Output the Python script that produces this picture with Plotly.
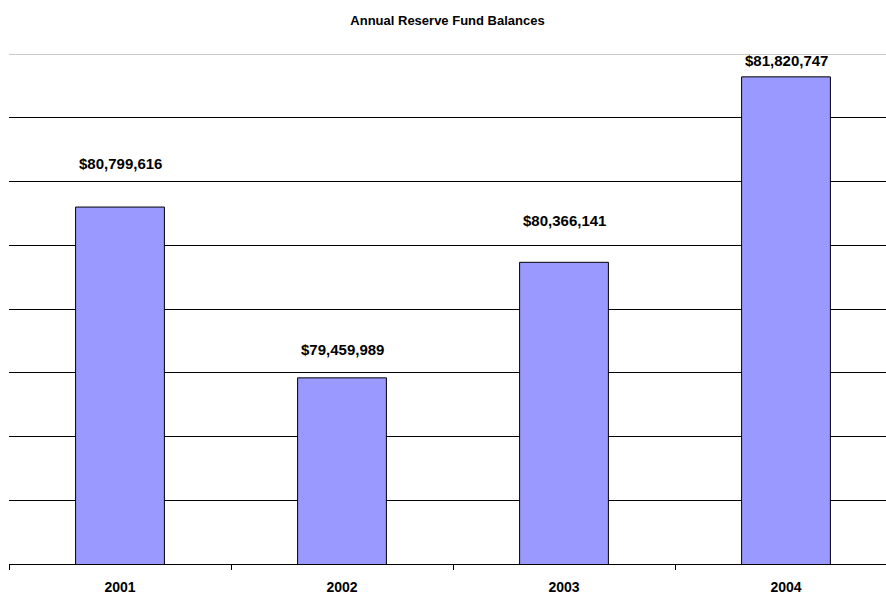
import plotly.graph_objects as go

years = ["2001", "2002", "2003", "2004"]
balances = [80799616, 79459989, 80366141, 81820747]
label_texts = ["$80,799,616", "$79,459,989", "$80,366,141", "$81,820,747"]
# pixel offsets of the value labels above each bar (layout only)
label_shift_px = [44, 28, 42, 16]

FONT = "Liberation Sans, Arial, sans-serif"

fig = go.Figure()
fig.add_trace(go.Bar(
    x=years, y=balances, width=0.4,
    marker=dict(color="#9999FF", line=dict(color="#000000", width=1)),
    hoverinfo="skip",
))

for i, (val, txt, sh) in enumerate(zip(balances, label_texts, label_shift_px)):
    fig.add_annotation(x=i, y=val, xref="x", yref="y", text="<b>%s</b>" % txt, showarrow=False,
                       yshift=sh, yanchor="middle", xanchor="center",
                       font=dict(family=FONT, size=15, color="#000000"))

fig.add_shape(type="line", xref="paper", yref="y", x0=0, x1=1, y0=82000000, y1=82000000,
              line=dict(color="#C8C8C8", width=2), layer="above")

fig.update_layout(
    width=886, height=596,
    margin=dict(l=9, r=0, t=54, b=32),
    paper_bgcolor="white", plot_bgcolor="white",
    showlegend=False,
    title=dict(text="<b>Annual Reserve Fund Balances</b>", x=0.5, xanchor="center",
               xref="paper", y=1 - 20 / 596, yref="container", yanchor="middle",
               font=dict(family=FONT, size=13, color="#000000")),
    xaxis=dict(type="category", range=[-0.5, -0.5 + 877 / 222],
               showline=True, linecolor="#000000", linewidth=1,
               ticks="outside", tickson="boundaries", ticklen=5, tickcolor="#000000",
               ticklabelstandoff=10,
               tickfont=dict(family=FONT, size=14, color="#000000"),
               showgrid=False, zeroline=False),
    yaxis=dict(range=[78000000, 82000000], dtick=500000, tick0=78000000,
               showgrid=True, gridcolor="#000000", gridwidth=1,
               showticklabels=False, ticks="", showline=False, zeroline=False),
)
fig.update_xaxes(tickprefix="<b>", ticksuffix="</b>")

fig.write_html("out.html")
